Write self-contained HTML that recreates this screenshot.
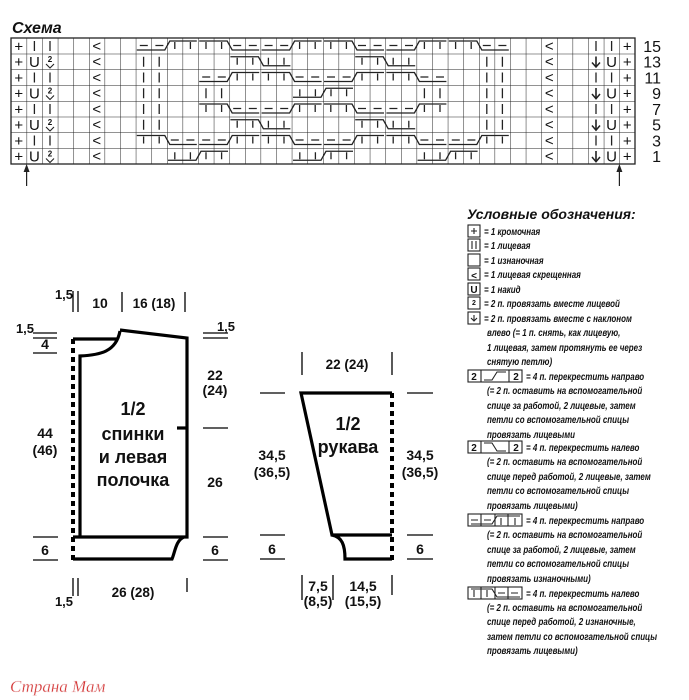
<!DOCTYPE html>
<html><head><meta charset="utf-8"><style>
html,body{margin:0;padding:0;background:#fff}
svg{display:block}
.t{font-family:"Liberation Sans",sans-serif;fill:#111}
.lg{font-family:"Liberation Sans",sans-serif;font-style:italic;font-weight:bold;font-size:10.5px;fill:#111}
</style></head><body>
<svg width="689" height="700" viewBox="0 0 689 700" xmlns="http://www.w3.org/2000/svg">
<defs>
<pattern id="grid" x="11" y="38" width="15.6" height="15.75" patternUnits="userSpaceOnUse">
<path d="M0 0H15.6M0 0V15.75" stroke="#222" stroke-width="1" fill="none"/>
</pattern>
<g id="rpk" stroke="#222" stroke-width="1.3" fill="none"><path d="M1 12H29L34 3H61"/><path d="M4 7.5H12M19.6 7.5H27.6"/><path d="M39 4V11M54.6 4V11"/></g>
<g id="lkp" stroke="#222" stroke-width="1.3" fill="none"><path d="M1 3H29L34 12H61"/><path d="M7.8 4V11M23.4 4V11"/><path d="M35 7.5H43M50.6 7.5H58.6"/></g>
<g id="lkk" stroke="#222" stroke-width="1.3" fill="none"><path d="M1 3H29L34 12H61"/><path d="M7.8 4V11M23.4 4V11M39 4V11M54.6 4V11"/></g>
<g id="rkk" stroke="#222" stroke-width="1.3" fill="none"><path d="M1 12H29L34 3H61"/><path d="M7.8 4V11M23.4 4V11M39 4V11M54.6 4V11"/></g>
<g id="kk" stroke="#222" stroke-width="1.3" fill="none"><path d="M7.8 3V13M23.4 3V13"/></g>
<g id="k2" stroke="#222" stroke-width="1.1" fill="none"><path d="M-4 2L0 6L4 2"/></g>
</defs>

<text x="12" y="33" class="t" font-size="16" font-weight="bold" font-style="italic">Схема</text>

<rect x="11" y="38" width="624" height="126" fill="url(#grid)"/>
<rect x="11" y="38" width="624" height="126" fill="none" stroke="#222" stroke-width="1.3"/>

<g class="t" font-size="15" text-anchor="middle">
<text x="18.8" y="51.5" >+</text><text x="18.8" y="67.2">+</text><text x="18.8" y="83">+</text><text x="18.8" y="98.7">+</text><text x="18.8" y="114.5">+</text><text x="18.8" y="130.2">+</text><text x="18.8" y="146">+</text><text x="18.8" y="161.7">+</text>
<text x="627.2" y="51.5">+</text><text x="627.2" y="67.2">+</text><text x="627.2" y="83">+</text><text x="627.2" y="98.7">+</text><text x="627.2" y="114.5">+</text><text x="627.2" y="130.2">+</text><text x="627.2" y="146">+</text><text x="627.2" y="161.7">+</text>
<text x="34.4" y="67.2">U</text><text x="34.4" y="98.7">U</text><text x="34.4" y="130.2">U</text><text x="34.4" y="161.7">U</text>
<text x="611.6" y="67.2">U</text><text x="611.6" y="98.7">U</text><text x="611.6" y="130.2">U</text><text x="611.6" y="161.7">U</text>
<text x="96.8" y="51">&lt;</text><text x="96.8" y="66.7">&lt;</text><text x="96.8" y="82.5">&lt;</text><text x="96.8" y="98.2">&lt;</text><text x="96.8" y="114">&lt;</text><text x="96.8" y="129.7">&lt;</text><text x="96.8" y="145.5">&lt;</text><text x="96.8" y="161.2">&lt;</text>
<text x="549.2" y="51">&lt;</text><text x="549.2" y="66.7">&lt;</text><text x="549.2" y="82.5">&lt;</text><text x="549.2" y="98.2">&lt;</text><text x="549.2" y="114">&lt;</text><text x="549.2" y="129.7">&lt;</text><text x="549.2" y="145.5">&lt;</text><text x="549.2" y="161.2">&lt;</text>
</g>
<g class="t" font-size="8" text-anchor="middle" font-weight="bold">
<text x="50" y="62">2</text><text x="50" y="93.5">2</text><text x="50" y="125">2</text><text x="50" y="156.5">2</text>
</g>
<use href="#k2" x="50" y="62"/><use href="#k2" x="50" y="93.5"/><use href="#k2" x="50" y="125"/><use href="#k2" x="50" y="156.5"/>
<g stroke="#222" stroke-width="1.3" fill="none">
<path d="M34.4 41V51M50 41V51M34.4 72.5V82.5M50 72.5V82.5M34.4 104V114M50 104V114M34.4 135.5V145.5M50 135.5V145.5"/>
<path d="M596 41V51M611.6 41V51M596 72.5V82.5M611.6 72.5V82.5M596 104V114M611.6 104V114M596 135.5V145.5M611.6 135.5V145.5"/>
<path stroke-width="1.6" d="M596 56.5V67M596 88V98.7M596 119.5V130.2M596 151V161.7"/>
<path stroke-width="1.5" d="M592 62.5L596 67L600 62.5M592 94L596 98.7L600 94M592 125.5L596 130.2L600 125.5M592 157L596 161.7L600 157"/>
<path stroke-width="1.2" d="M26.6 166V186M619.4 166V186"/>
</g>
<path d="M23.6 172L26.6 164L29.6 172ZM616.4 172L619.4 164L622.4 172Z" fill="#222"/>

<use href="#rpk" x="135.8" y="38"/><use href="#lkp" x="198.2" y="38"/><use href="#rpk" x="260.6" y="38"/><use href="#lkp" x="323" y="38"/><use href="#rpk" x="385.4" y="38"/><use href="#lkp" x="447.8" y="38"/>
<use href="#kk" x="135.8" y="53.75"/><use href="#lkk" x="229.4" y="53.75"/><use href="#lkk" x="354.2" y="53.75"/><use href="#kk" x="479" y="53.75"/>
<use href="#kk" x="135.8" y="69.5"/><use href="#rpk" x="198.2" y="69.5"/><use href="#lkp" x="260.6" y="69.5"/><use href="#rpk" x="323" y="69.5"/><use href="#lkp" x="385.4" y="69.5"/><use href="#kk" x="479" y="69.5"/>
<use href="#kk" x="135.8" y="85.25"/><use href="#kk" x="198.2" y="85.25"/><use href="#rkk" x="292" y="85.25"/><use href="#kk" x="416.6" y="85.25"/><use href="#kk" x="479" y="85.25"/>
<use href="#kk" x="135.8" y="101"/><use href="#lkp" x="198.2" y="101"/><use href="#rpk" x="260.6" y="101"/><use href="#lkp" x="323" y="101"/><use href="#rpk" x="385.4" y="101"/><use href="#kk" x="479" y="101"/>
<use href="#kk" x="135.8" y="116.75"/><use href="#lkk" x="229.4" y="116.75"/><use href="#lkk" x="354.2" y="116.75"/><use href="#kk" x="479" y="116.75"/>
<use href="#lkp" x="135.8" y="132.5"/><use href="#rpk" x="198.2" y="132.5"/><use href="#lkp" x="260.6" y="132.5"/><use href="#rpk" x="323" y="132.5"/><use href="#lkp" x="385.4" y="132.5"/><use href="#rpk" x="447.8" y="132.5"/>
<use href="#rkk" x="167" y="148.25"/><use href="#rkk" x="292" y="148.25"/><use href="#rkk" x="416.6" y="148.25"/>

<g class="t" font-size="16" text-anchor="end">
<text x="661" y="52">15</text><text x="661" y="67.7">13</text><text x="661" y="83.5">11</text><text x="661" y="99.2">9</text><text x="661" y="115">7</text><text x="661" y="130.7">5</text><text x="661" y="146.5">3</text><text x="661" y="162.2">1</text>
</g>

<g stroke="#000" fill="none">
<path d="M73 339V562" stroke-width="4" stroke-dasharray="5 4"/>
<path stroke-width="3.2" d="M73 339H117M120 331C116 352 100 355 80 356V537M120 330L187 338V537H73M73 559H172C175 552 176 540 184 537"/>
<path stroke-width="3.2" d="M177 428H187"/>
<path stroke-width="1.3" d="M33 333H57M33 338H57M33 353H57M203 333H228M203 338H228M203 428H228M33 537H58M33 560H58M203 537H228M203 560H228M73 291V312M78 291V312M122 292V312M185 292V312M73 578V596M78 578V596M187 578V592"/>
</g>
<g class="t" font-size="14" text-anchor="middle" font-weight="bold">
<text x="64" y="299" font-size="13">1,5</text>
<text x="100" y="308">10</text><text x="154" y="308" font-size="13.5">16 (18)</text>
<text x="25" y="333" font-size="13">1,5</text><text x="45" y="349">4</text>
<text x="226" y="331" font-size="13">1,5</text>
<text x="215" y="380">22</text><text x="215" y="395">(24)</text>
<text x="45" y="438">44</text><text x="45" y="455">(46)</text>
<text x="215" y="487">26</text>
<text x="45" y="555">6</text><text x="215" y="555">6</text>
<text x="64" y="606" font-size="13">1,5</text>
<text x="133" y="597" font-size="13.5">26 (28)</text>
<g font-size="18"><text x="133" y="415">1/2</text><text x="133" y="440">спинки</text><text x="133" y="463">и левая</text><text x="133" y="486">полочка</text></g>
</g>

<g stroke="#000" fill="none">
<path d="M392 393V560" stroke-width="4" stroke-dasharray="5 4"/>
<path stroke-width="3.2" d="M392 393H301L332 535H392M332 535C342 537 345 545 345 559H392"/>
<path stroke-width="1.3" d="M260 393H285M260 535H285M260 559H285M407 393H433M407 535H433M407 559H433M302 352V375M392 352V375M302 575V600M333 575V600M392 575V595"/>
</g>
<g class="t" font-size="14" text-anchor="middle" font-weight="bold">
<text x="347" y="369" font-size="13.5">22 (24)</text>
<text x="272" y="460">34,5</text><text x="272" y="477">(36,5)</text>
<text x="420" y="460">34,5</text><text x="420" y="477">(36,5)</text>
<text x="272" y="554">6</text><text x="420" y="554">6</text>
<text x="318" y="591">7,5</text><text x="318" y="606">(8,5)</text>
<text x="363" y="591">14,5</text><text x="363" y="606">(15,5)</text>
<g font-size="18"><text x="348" y="430">1/2</text><text x="348" y="453">рукава</text></g>
</g>

<text x="467" y="219" class="t" font-size="14" font-weight="bold" font-style="italic">Условные обозначения:</text>
<g stroke="#222" stroke-width="1.1" fill="none">
<rect x="468" y="225" width="12" height="12"/><rect x="468" y="239" width="12" height="12"/><rect x="468" y="254" width="12" height="12"/><rect x="468" y="268" width="12" height="12"/><rect x="468" y="283" width="12" height="12"/><rect x="468" y="297" width="12" height="12"/><rect x="468" y="312" width="12" height="12"/>
<path d="M471 231H477M474 228V234M472 241V249M476 241V249"/>
<rect x="468" y="370" width="54" height="12"/><path d="M481 370V382M509 370V382M484 380H492L497 372H506"/>
<rect x="468" y="441" width="54" height="12"/><path d="M481 441V453M509 441V453M484 443H492L497 451H506"/>
<rect x="468" y="514" width="54" height="12"/><path d="M481 514V526M495 514V526M508 514V526M471 520H478M484 520H491M471 524H492L497 516H520M501 518V525M515 518V525"/>
<rect x="468" y="587" width="54" height="12"/><path d="M481 587V599M495 587V599M508 587V599M471 589H492L497 597H520M474 590V597M487 590V597M498 593H505M511 593H518"/>
<path d="M474 315V321M471 318L474 321L477 318"/>
</g>
<g class="t" font-size="10" text-anchor="middle" font-weight="bold">
<text x="474" y="279">&lt;</text><text x="474" y="293">U</text><text x="474" y="305" font-size="7">2</text>
<text x="474" y="380">2</text><text x="516" y="380">2</text><text x="474" y="451">2</text><text x="516" y="451">2</text>
</g>
<g class="lg" transform="translate(484,0) scale(0.76,1)">
<text x="0" y="235">= 1 кромочная</text>
<text x="0" y="249">= 1 лицевая</text>
<text x="0" y="264">= 1 изнаночная</text>
<text x="0" y="278">= 1 лицевая скрещенная</text>
<text x="0" y="293">= 1 накид</text>
<text x="0" y="307">= 2 п. провязать вместе лицевой</text>
<text x="0" y="322">= 2 п. провязать вместе с наклоном</text>
<text x="3.9" y="336">влево (= 1 п. снять, как лицевую,</text>
<text x="3.9" y="351">1 лицевая, затем протянуть ее через</text>
<text x="3.9" y="365">снятую петлю)</text>
<text x="55.3" y="380">= 4 п. перекрестить направо</text>
<text x="3.9" y="394">(= 2 п. оставить на вспомогательной</text>
<text x="3.9" y="409">спице за работой, 2 лицевые, затем</text>
<text x="3.9" y="423">петли со вспомогательной спицы</text>
<text x="3.9" y="438">провязать лицевыми</text>
<text x="55.3" y="451">= 4 п. перекрестить налево</text>
<text x="3.9" y="465">(= 2 п. оставить на вспомогательной</text>
<text x="3.9" y="480">спице перед работой, 2 лицевые, затем</text>
<text x="3.9" y="494">петли со вспомогательной спицы</text>
<text x="3.9" y="509">провязать лицевыми)</text>
<text x="55.3" y="524">= 4 п. перекрестить направо</text>
<text x="3.9" y="538">(= 2 п. оставить на вспомогательной</text>
<text x="3.9" y="553">спице за работой, 2 лицевые, затем</text>
<text x="3.9" y="567">петли со вспомогательной спицы</text>
<text x="3.9" y="582">провязать изнаночными)</text>
<text x="55.3" y="597">= 4 п. перекрестить налево</text>
<text x="3.9" y="611">(= 2 п. оставить на вспомогательной</text>
<text x="3.9" y="625">спице перед работой, 2 изнаночные,</text>
<text x="3.9" y="640">затем петли со вспомогательной спицы</text>
<text x="3.9" y="654">провязать лицевыми)</text>
</g>

<text x="10" y="692" font-family="Liberation Serif,serif" font-style="italic" font-size="17" fill="#d42a2a" stroke="#f3dede" stroke-width="0.4">Страна Мам</text>
</svg>
</body></html>
